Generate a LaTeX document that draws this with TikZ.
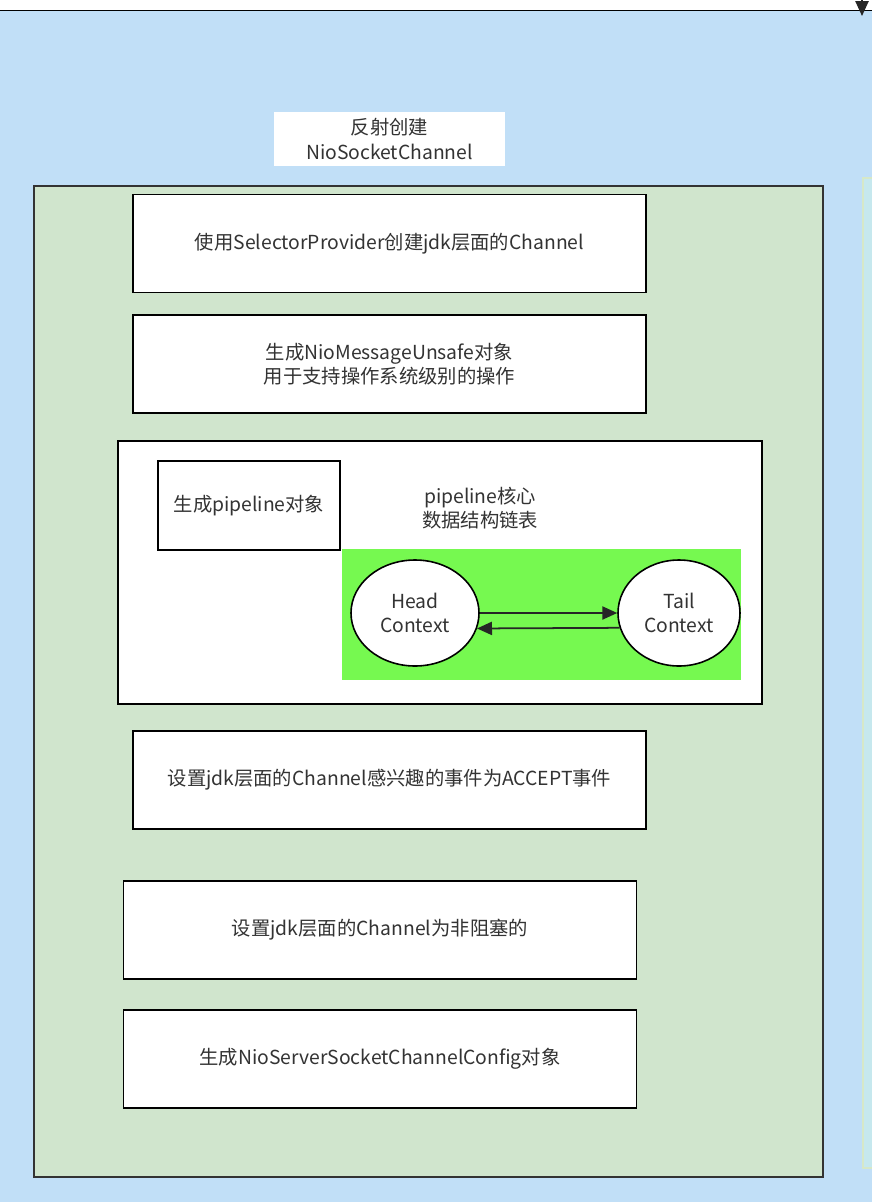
\documentclass[tikz,border=0pt]{standalone}
\usepackage{fontspec}
\setmainfont{Noto Sans CJK SC}
\usetikzlibrary{arrows.meta,positioning,shapes.geometric}
\definecolor{outerblue}{RGB}{193,223,247}
\definecolor{innergreen}{RGB}{208,229,205}
\definecolor{brightgreen}{RGB}{118,249,80}
\definecolor{sidecyan}{RGB}{198,232,238}
\definecolor{sideedge}{RGB}{214,232,200}
\definecolor{textgray}{RGB}{51,51,51}
\tikzset{
  arrow/.style     = {-{Triangle[length=8.5pt,width=7.5pt]}, line width=1pt, black!85},
  stepbox/.style   = {draw=black, line width=1.1pt, fill=white, align=center,
                      text=textgray, font=\fontsize{11}{14}\selectfont,
                      minimum width=10.26cm, minimum height=1.96cm, inner sep=0pt},
  ctxnode/.style   = {ellipse, draw=black, line width=0.9pt, fill=white, align=center,
                      text=textgray, font=\fontsize{11}{14}\selectfont, inner sep=0pt},
  plainlabel/.style = {align=center, text=textgray, font=\fontsize{11}{14}\selectfont},
}

\begin{document}
\begin{tikzpicture}[x=0.2mm, y=-0.2mm]
  \useasboundingbox (0,0) rectangle (872,1202);

  % ========== background ==========
  \fill[white] (0,0) rectangle (872,1202);
  \node[draw=black, line width=1pt, fill=outerblue, anchor=north west,
        minimum width=18cm, minimum height=24cm, inner sep=0pt] (outer) at (-20,9.5) {};
  \node[draw=sideedge, line width=1pt, fill=sidecyan, anchor=north west,
        minimum width=2cm, minimum height=19.8cm, inner sep=0pt] (side) at (862,177) {};
  \coordinate (incoming) at (862,-5);
  \coordinate (landing) at (862,16);
  \draw[arrow] (incoming) -- (landing);

  % ========== NioSocketChannel ==========
  \node[fill=white, minimum width=4.62cm, minimum height=1.08cm, plainlabel]
    (title) at (389.5,139) {反射创建\\NioSocketChannel};
  \node[draw=black!80, line width=1.2pt, fill=innergreen,
        minimum width=15.78cm, minimum height=19.82cm, inner sep=0pt]
    (channel) at (428.5,681.5) {};

  \node[stepbox] (jdkch) at (389.5,243.5) {使用SelectorProvider创建jdk层面的Channel};
  \node[stepbox] (unsafe) at (389.5,364) {生成NioMessageUnsafe对象\\用于支持操作系统级别的操作};

  % ========== pipeline ==========
  \node[stepbox, minimum width=12.88cm, minimum height=5.26cm] (pipebox) at (440,572.5) {};
  \node[stepbox, minimum width=3.64cm, minimum height=1.78cm] (pipeobj) at (249,505.5) {生成pipeline对象};
  \node[plainlabel] (pipecore) at (480,508) {pipeline核心\\数据结构链表};
  \node[fill=brightgreen, minimum width=7.98cm, minimum height=2.62cm, inner sep=0pt]
    (chain) at (541.5,614.5) {};
  \node[ctxnode, minimum width=2.56cm, minimum height=2.12cm] (head) at (415,613) {Head\\Context};
  \node[ctxnode, minimum width=2.44cm, minimum height=2.12cm] (tail) at (679,613) {Tail\\Context};
  \draw[arrow] (head.east) -- (tail.west);
  \draw[arrow] (tail.194) -- (head.-14);

  % ========== remaining steps ==========
  \node[stepbox] (accept) at (389.5,780) {设置jdk层面的Channel感兴趣的事件为ACCEPT事件};
  \node[stepbox] (nonblock) at (380,930) {设置jdk层面的Channel为非阻塞的};
  \node[stepbox] (config) at (380,1059) {生成NioServerSocketChannelConfig对象};

\end{tikzpicture}
\end{document}
